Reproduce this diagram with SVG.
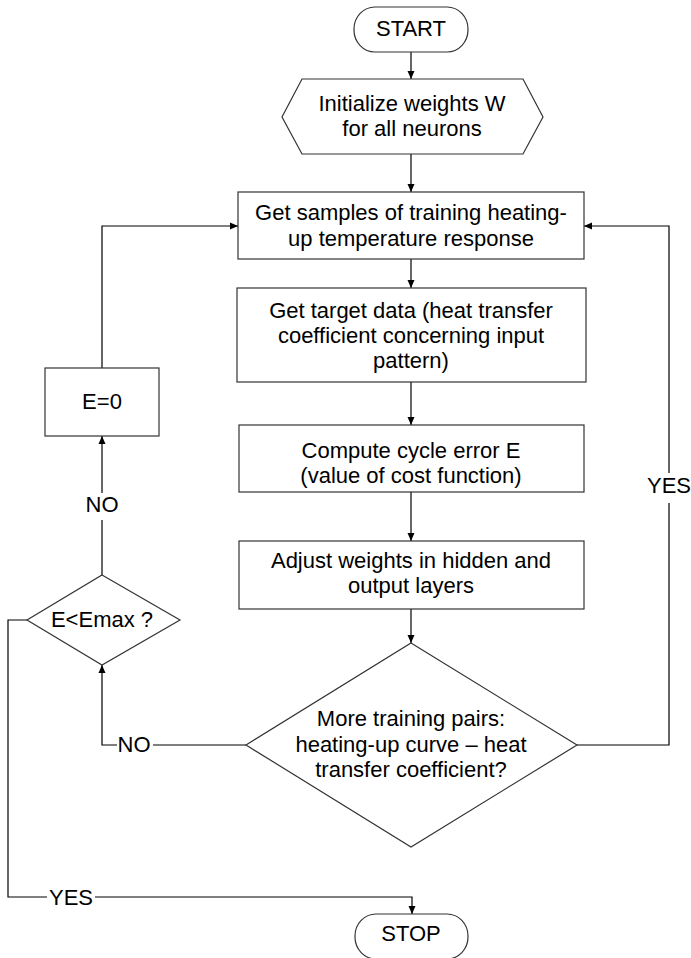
<svg xmlns="http://www.w3.org/2000/svg" width="691" height="958" viewBox="0 0 691 958">
<style>
.s{fill:#fff;stroke:#333;stroke-width:1.2}
.c{fill:none;stroke:#000;stroke-width:1.2}
text{font-family:"Liberation Sans",Arial,sans-serif;font-size:22px;fill:#000;text-anchor:middle}
</style>
<defs>
<marker id="a" markerUnits="userSpaceOnUse" markerWidth="9" markerHeight="8" refX="8" refY="4" orient="auto">
<path d="M0,0.5 L8,4 L0,7.5 z" fill="#000"/>
</marker>
</defs>
<rect width="691" height="958" fill="#fff"/>
<g id="connectors">
<line class="c" x1="411" y1="52" x2="411" y2="79" marker-end="url(#a)"/>
<line class="c" x1="411" y1="154" x2="411" y2="192" marker-end="url(#a)"/>
<line class="c" x1="411" y1="259" x2="411" y2="288" marker-end="url(#a)"/>
<line class="c" x1="411" y1="382" x2="411" y2="425" marker-end="url(#a)"/>
<line class="c" x1="411" y1="492" x2="411" y2="541" marker-end="url(#a)"/>
<line class="c" x1="411" y1="609" x2="411" y2="643" marker-end="url(#a)"/>
<polyline class="c" points="577,745 669,745 669,503"/>
<polyline class="c" points="669,473 669,226 584,226" marker-end="url(#a)"/>
<line class="c" x1="246" y1="745" x2="153" y2="745"/>
<polyline class="c" points="117,745 102,745 102,665" marker-end="url(#a)"/>
<line class="c" x1="102" y1="575" x2="102" y2="520"/>
<line class="c" x1="102" y1="493" x2="102" y2="436" marker-end="url(#a)"/>
<polyline class="c" points="102,368 102,226 238,226" marker-end="url(#a)"/>
<polyline class="c" points="27,620 8,620 8,897 47,897"/>
<polyline class="c" points="95,897 412,897 412,914" marker-end="url(#a)"/>
<text x="669" y="493">YES</text>
<text x="134" y="752">NO</text>
<text x="102" y="512">NO</text>
<text x="71" y="905">YES</text>
</g>
<g id="start">
<rect class="s" x="354" y="7" width="114" height="45" rx="21" ry="22"/>
<text x="411" y="36">START</text>
</g>
<g id="init">
<polygon class="s" points="302,79 523,79 543,117 523,154 302,154 282,117"/>
<text x="412" y="111">Initialize weights W</text>
<text x="412" y="136">for all neurons</text>
</g>
<g id="samples">
<rect class="s" x="238" y="192" width="346" height="67"/>
<text x="411" y="220">Get samples of training heating-</text>
<text x="411" y="246">up temperature response</text>
</g>
<g id="target">
<rect class="s" x="237" y="288" width="349" height="94"/>
<text x="411" y="318">Get target data (heat transfer</text>
<text x="411" y="343">coefficient concerning input</text>
<text x="411" y="368">pattern)</text>
</g>
<g id="error">
<rect class="s" x="239" y="425" width="345" height="67"/>
<text x="411" y="458">Compute cycle error E</text>
<text x="411" y="483">(value of cost function)</text>
</g>
<g id="adjust">
<rect class="s" x="239" y="541" width="345" height="68"/>
<text x="411" y="568">Adjust weights in hidden and</text>
<text x="411" y="593">output layers</text>
</g>
<g id="more">
<polygon class="s" points="411,643 577,745 411,847 246,745"/>
<text x="411" y="726">More training pairs:</text>
<text x="411" y="752">heating-up curve – heat</text>
<text x="411" y="777">transfer coefficient?</text>
</g>
<g id="ezero">
<rect class="s" x="45" y="368" width="114" height="68"/>
<text x="102" y="409">E=0</text>
</g>
<g id="emax">
<polygon class="s" points="102,575 180,620 102,665 27,620"/>
<text x="102" y="627">E&lt;Emax ?</text>
</g>
<g id="stop">
<rect class="s" x="355" y="914" width="113" height="45" rx="21" ry="22"/>
<text x="411" y="941">STOP</text>
</g>
</svg>
